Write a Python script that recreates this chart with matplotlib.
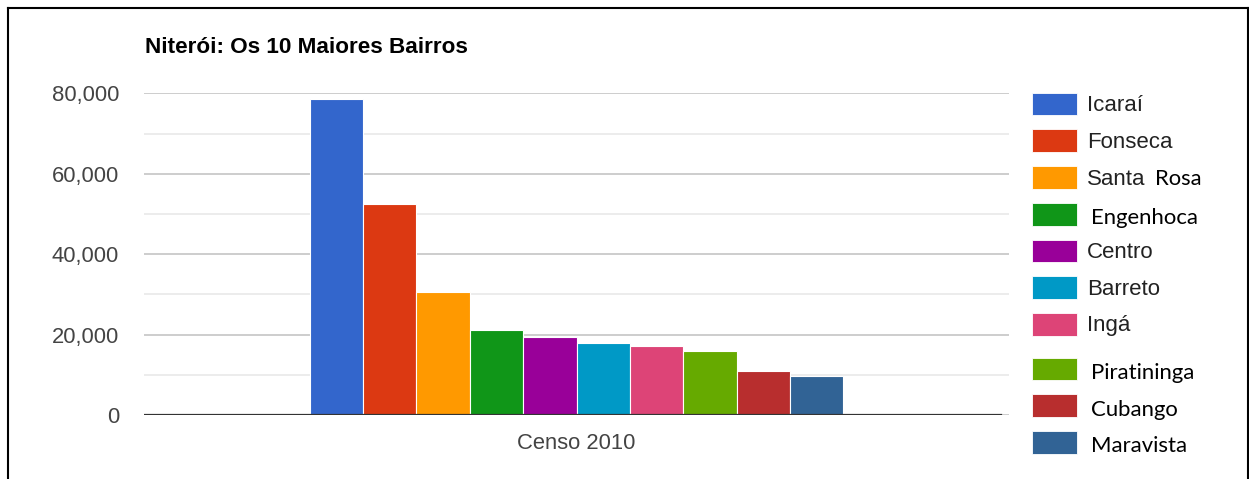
import matplotlib
matplotlib.use("Agg")
import matplotlib.pyplot as plt
from matplotlib.patches import Rectangle
from matplotlib.lines import Line2D
from matplotlib.ticker import FuncFormatter, MultipleLocator

plt.rcParams["font.family"] = ["Liberation Sans", "DejaVu Sans"]

bairros = ["Icaraí", "Fonseca", "Santa Rosa", "Engenhoca", "Centro",
           "Barreto", "Ingá", "Piratininga", "Cubango", "Maravista"]
populacao = [78600, 52450, 30650, 21100, 19350, 18000, 17100, 15800, 11000, 9750]
cores = ["#3366cc", "#dc3912", "#ff9900", "#109618", "#990099",
         "#0099c6", "#dd4477", "#66aa00", "#b82e2e", "#316395"]
categoria = "Censo 2010"
titulo = "Niterói: Os 10 Maiores Bairros"

W, H = 1249, 479
fig = plt.figure(figsize=(W / 100, H / 100), dpi=100)
ax = fig.add_axes([144 / W, 1 - 415 / H, (1009 - 144) / W, (415 - 93.3) / H])

# grupo ocupa ~62% da largura da area do grafico
grupo = 0.6166
n = len(bairros)
largura = grupo / n
for i, (v, c) in enumerate(zip(populacao, cores)):
    x = -grupo / 2 + largura * (i + 0.5)
    ax.bar(x, v, width=largura, color=c, edgecolor="white", linewidth=0.8, zorder=3)

ax.set_xlim(-0.5, 0.5)
ax.set_ylim(0, 80000)
ax.yaxis.set_major_locator(MultipleLocator(20000))
ax.yaxis.set_minor_locator(MultipleLocator(10000))
ax.yaxis.set_major_formatter(FuncFormatter(lambda v, p: f"{int(v):,}"))
ax.grid(which="major", axis="y", color="#cdcdcd", linewidth=1.4, zorder=0)
ax.grid(which="minor", axis="y", color="#ebebeb", linewidth=1.3, zorder=0)
# linha de base termina um pouco antes (imagem editada)
ax.axhline(0, xmax=(1000.7 - 144) / (1009 - 144), color="#333333", linewidth=1.6, zorder=4)
for s in ax.spines.values():
    s.set_visible(False)
ax.tick_params(axis="y", which="both", length=0, pad=18, labelsize=15.8, labelcolor="#444444")
ax.set_xticks([0])
ax.set_xticklabels([categoria])
ax.tick_params(axis="x", length=0, pad=13, labelsize=15.8, labelcolor="#444444")

fig.text(145 / W, 1 - 53 / H, titulo, fontsize=16.2, fontweight="bold",
         color="#000000", va="baseline", ha="left")

# legenda desenhada a mao (alguns rotulos foram editados com outra fonte)
calibri = ["Lato", "DejaVu Sans"]
estilo = ["arial", "arial", "misto", "calibri", "arial", "arial", "arial",
          "calibri", "calibri", "calibri"]
for i, (nome, c) in enumerate(zip(bairros, cores)):
    topo = 92.7 + i * 36.7 + (8 if i >= 7 else 0)
    fig.add_artist(Rectangle((1031.7 / W, 1 - (topo + 22.7) / H), 45.6 / W, 22.7 / H,
                             transform=fig.transFigure, facecolor=c,
                             edgecolor="white", linewidth=0.6))
    if estilo[i] == "arial":
        fig.text(1087 / W, 1 - (topo + 18.5) / H, nome, fontsize=16, color="#222222",
                 va="baseline", ha="left")
    elif estilo[i] == "misto":
        a, b = nome.split(" ")
        fig.text(1087 / W, 1 - (topo + 18.5) / H, a, fontsize=16, color="#222222",
                 va="baseline", ha="left")
        fig.text(1155 / W, 1 - (topo + 19) / H, b, fontsize=15.8, color="black",
                 family=calibri, va="baseline", ha="left")
    else:
        fig.text(1091 / W, 1 - (topo + 21.5) / H, nome, fontsize=15.9, color="black",
                 family=calibri, va="baseline", ha="left")

# moldura preta
for xs, ys in [([8, 8], [479, 8]), ([8, 1247.5], [8, 8]), ([1247.5, 1247.5], [8, 479])]:
    fig.add_artist(Line2D([x / W for x in xs], [1 - y / H for y in ys],
                          color="black", linewidth=1.5, transform=fig.transFigure))

fig.savefig("out.png", dpi=100)
